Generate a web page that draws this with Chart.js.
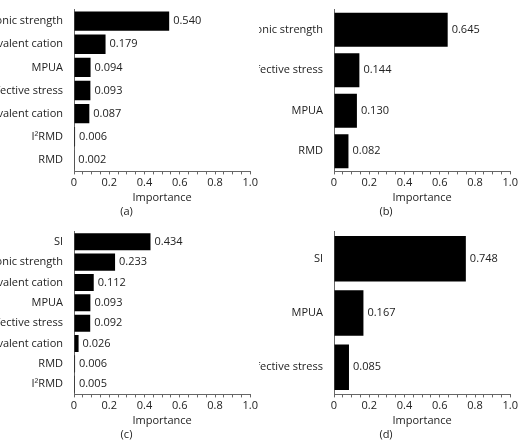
<!DOCTYPE html>
<html><head><meta charset="utf-8">
<script src="https://cdn.jsdelivr.net/npm/chart.js"></script>
<style>
body{margin:0;background:#fff;width:520px;height:443px;position:relative;overflow:hidden}
.p{position:absolute}
</style></head><body>
<div class="p" style="left:0;top:0;width:260px;height:220px"><canvas id="ca"></canvas></div>
<div class="p" style="left:259px;top:0;width:261px;height:220px"><canvas id="cb"></canvas></div>
<div class="p" style="left:0;top:222px;width:260px;height:221px"><canvas id="cc"></canvas></div>
<div class="p" style="left:259px;top:222px;width:261px;height:221px"><canvas id="cd"></canvas></div>
<script>
const labelsA = ["Ionic strength","Divalent cation","MPUA","Effective stress","Monovalent cation","I²RMD","RMD"];
const valuesA = [0.540,0.179,0.094,0.093,0.087,0.006,0.002];
const labelsB = ["Ionic strength","Effective stress","MPUA","RMD"];
const valuesB = [0.645,0.144,0.130,0.082];
const labelsC = ["SI","Ionic strength","Divalent cation","MPUA","Effective stress","Monovalent cation","RMD","I²RMD"];
const valuesC = [0.434,0.233,0.112,0.093,0.092,0.026,0.006,0.005];
const labelsD = ["SI","MPUA","Effective stress"];
const valuesD = [0.748,0.167,0.085];
const FONT = "'Open Sans', sans-serif";
const valuePlugin = {
  id:'vals',
  afterDatasetsDraw(chart){
    const ctx = chart.ctx; const meta = chart.getDatasetMeta(0);
    ctx.save(); ctx.font = "11px "+FONT; ctx.fillStyle="#222"; ctx.textBaseline="middle";
    meta.data.forEach((bar,i)=>{
      ctx.fillText(chart.data.datasets[0].data[i].toFixed(3), bar.x+4, bar.y);
    });
    ctx.restore();
  }
};
function make(id, labels, values, tag, yWidth){
  new Chart(document.getElementById(id), {
    type:'bar',
    data:{labels, datasets:[{data:values, backgroundColor:'#000', borderWidth:0, categoryPercentage:1, barPercentage:0.84}]},
    options:{
      indexAxis:'y', responsive:true, maintainAspectRatio:false, animation:false,
      layout:{padding:{top:0,right:7,left:0,bottom:0}},
      plugins:{legend:{display:false}, tooltip:{enabled:false},
        subtitle:{display:true, text:tag, position:'bottom', color:'#222', font:{family:FONT,size:11}, padding:{top:0,bottom:2}}},
      scales:{
        x:{min:0,max:1, grid:{display:true, drawOnChartArea:false, tickLength:3, color:'#666'},
           border:{color:'#666'},
           ticks:{stepSize:0.05, autoSkip:false, maxRotation:0, color:'#222', font:{family:FONT,size:11}, padding:2,
             callback:(v)=>{const r=Math.round(v*100); return r%20===0 ? (r===0?'0':(r/100).toFixed(1)) : '';}},
           title:{display:true,text:'Importance',color:'#222',font:{family:FONT,size:11},padding:{top:0,bottom:0}}},
        y:{grid:{display:false}, border:{color:'#666'},
           ticks:{color:'#222', font:{family:FONT,size:11}, padding:3},
           afterFit:(s)=>{s.width=yWidth;}}
      }
    },
    plugins:[valuePlugin]
  });
}
make('ca', labelsA, valuesA, '(a)', 74);
make('cb', labelsB, valuesB, '(b)', 75);
make('cc', labelsC, valuesC, '(c)', 74);
make('cd', labelsD, valuesD, '(d)', 75);
</script></body></html>
